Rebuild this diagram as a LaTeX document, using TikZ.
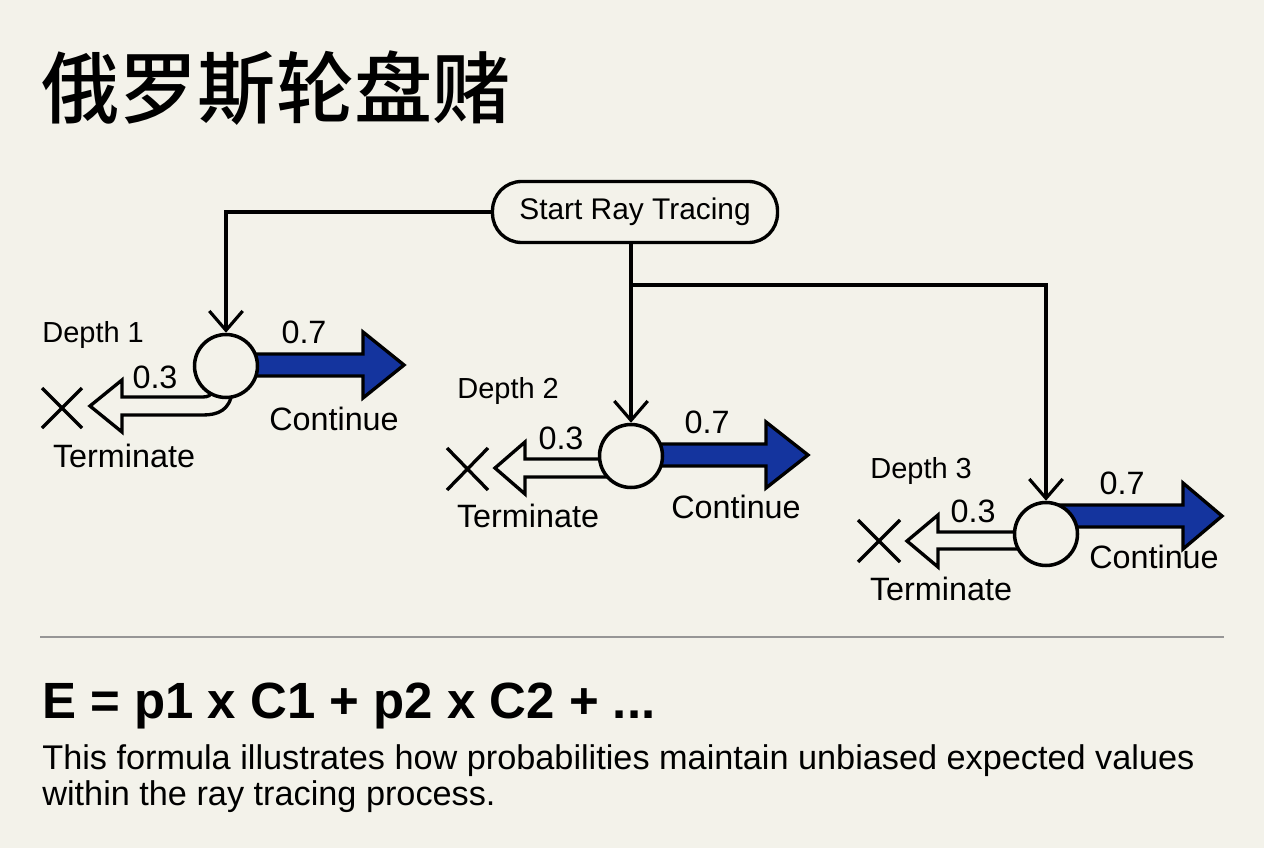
\documentclass[tikz,border=0pt]{standalone}
\usepackage{fontspec}
\setmainfont{Liberation Sans}
\newfontfamily\cjk{Noto Sans CJK SC Medium}
\usetikzlibrary{arrows.meta}
\definecolor{bg}{RGB}{243,242,234}
\definecolor{arrblue}{RGB}{20,52,158}
\definecolor{rulegray}{RGB}{150,150,150}
\tikzset{
  lbl/.style={inner sep=0pt, anchor=base, font=\fontsize{18.4}{22}\selectfont},
  depthlbl/.style={inner sep=0pt, anchor=base west, font=\fontsize{16.5}{20}\selectfont},
  startbox/.style={draw, line width=1.9pt, rounded corners=0.58cm, fill=bg,
    minimum width=5.7cm, minimum height=1.22cm, inner sep=0pt,
    font=\fontsize{17}{20}\selectfont},
  circ/.style={circle, draw, line width=2pt, fill=bg, minimum size=1.26cm, inner sep=0pt},
  conn/.style={draw, line width=1.8pt, -{Straight Barb[length=11pt,width=19pt]}},
  bluearrow/.style={draw, line width=1.9pt, fill=arrblue, line join=miter},
  whitearrow/.style={draw, line width=1.9pt, fill=bg, line join=miter},
  crossline/.style={draw, line width=1.9pt},
}
\begin{document}
\begin{tikzpicture}[x=0.02cm, y=-0.02cm]
\fill[bg] (0,0) rectangle (1264,848);
\useasboundingbox (0,0) rectangle (1264,848);

% title
\node[inner sep=0pt, font=\cjk\fontsize{44.5}{50}\selectfont] (title) at (276,88) {俄罗斯轮盘赌};

% continue arrows (blue)
\draw[bluearrow] (226,354) -- (363,354) -- (363,332) -- (404,365) -- (363,398) -- (363,376) -- (226,376) -- cycle;
\draw[bluearrow] (631,444) -- (766,444) -- (766,422) -- (808,455) -- (766,488) -- (766,466) -- (631,466) -- cycle;
\draw[bluearrow] (1046,505) -- (1183,505) -- (1183,483) -- (1222,516) -- (1183,549) -- (1183,527) -- (1046,527) -- cycle;

% terminate arrows (white)
\draw[whitearrow] (90,406) -- (122,380) -- (122,397) -- (203,397)
  .. controls (208,397) and (211,395) .. (213,392) -- (224,390) -- (232,392)
  .. controls (230,410) and (218,415) .. (203,415) -- (122,415) -- (122,432) -- cycle;
\draw[whitearrow] (495,468) -- (525,442) -- (525,459) -- (631,459) -- (631,477) -- (525,477) -- (525,494) -- cycle;
\draw[whitearrow] (907,541) -- (938,515) -- (938,532) -- (1046,532) -- (1046,549) -- (938,549) -- (938,567) -- cycle;

% crosses
\draw[crossline] (42,388) -- (82,428) (42,428) -- (82,388);
\draw[crossline] (447,448) -- (488,490) (447,490) -- (488,448);
\draw[crossline] (858,520) -- (900,562) (858,562) -- (900,520);

% nodes
\node[startbox] (start) at (635,212) {Start Ray Tracing};
\node[circ] (c1) at (226,366) {};
\node[circ] (c2) at (631,456) {};
\node[circ] (c3) at (1046,534) {};

% connectors
\draw[conn] (start.west) -| (c1.north);
\draw[conn] (c2.north |- start.south) -- (c2.north);
\coordinate (br) at (631,285);
\draw[conn] (br) -| (c3.north);

% labels
\node[depthlbl] (d1) at (42,342) {Depth 1};
\node[depthlbl] (d2) at (457,398) {Depth 2};
\node[depthlbl] (d3) at (870,478) {Depth 3};

\node[lbl] (p7a) at (304,343) {0.7};
\node[lbl] (p3a) at (155,388) {0.3};
\node[lbl] (conta) at (334,430) {Continue};
\node[lbl] (terma) at (124,467) {Terminate};

\node[lbl] (p7b) at (707,433) {0.7};
\node[lbl] (p3b) at (561,449) {0.3};
\node[lbl] (contb) at (736,518) {Continue};
\node[lbl] (termb) at (528,527) {Terminate};

\node[lbl] (p7c) at (1122,494) {0.7};
\node[lbl] (p3c) at (973,522) {0.3};
\node[lbl] (contc) at (1154,568) {Continue};
\node[lbl] (termc) at (941,600) {Terminate};

% rule
\draw[rulegray, line width=0.6pt] (40,637) -- (1224,637);

% formula and text
\node[inner sep=0pt, anchor=base west, font=\bfseries\fontsize{29}{34}\selectfont] (formula) at (42,718) {E = p1 x C1 + p2 x C2 + ...};
\node[inner sep=0pt, anchor=base west, font=\fontsize{19.5}{23}\selectfont] (para1) at (42,769) {This formula illustrates how probabilities maintain unbiased expected values};
\node[inner sep=0pt, anchor=base west, font=\fontsize{19.5}{23}\selectfont] (para2) at (42,805) {within the ray tracing process.};
\end{tikzpicture}
\end{document}
